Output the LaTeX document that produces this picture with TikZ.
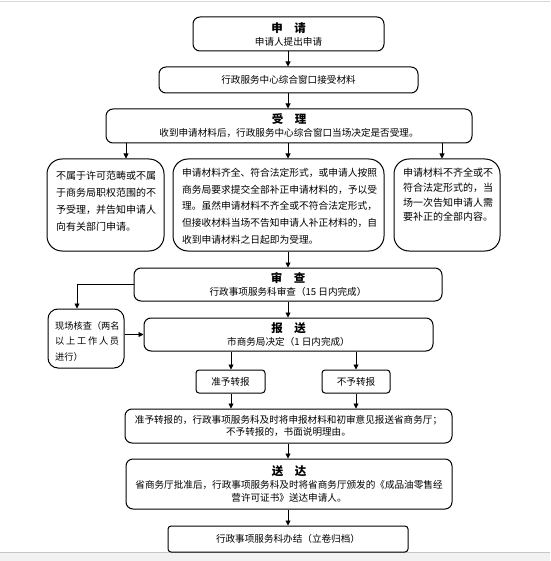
\documentclass[tikz,border=0pt]{standalone}
\usepackage{fontspec}
\setmainfont{Noto Sans CJK SC}
\usetikzlibrary{arrows.meta}
\newcommand\boxtitle[1]{{\fontsize{11.5}{13}\selectfont\bfseries #1}}
\begin{document}
\begin{tikzpicture}[x=1pt,y=-1pt,
  box/.style={draw, line width=1pt, rounded corners=7pt, inner sep=0pt, align=center,
              font=\fontsize{9.6}{13}\selectfont},
  bigbox/.style={draw, line width=1pt, rounded corners=15pt, inner sep=0pt},
  txt/.style={inner sep=0pt, align=left, anchor=north west},
  arr/.style={-{Triangle[length=5pt,width=5pt]}, line width=0.9pt}
]
\useasboundingbox (0,0) rectangle (550,561);
\fill[white] (0,0) rectangle (550,561);
\draw[gray!30, line width=1.5pt] (0,1.5) -- (550,1.5);
\fill[gray!10] (0,552) rectangle (550,561);
\draw[gray!45, line width=0.8pt] (0,552.5) -- (550,552.5);

\coordinate (xa) at (126,0);
\coordinate (xm) at (288,0);
\coordinate (xr) at (442,0);
\coordinate (xz) at (231,0);
\coordinate (xb) at (356,0);
\coordinate (xv) at (77,0);

\node[box, minimum width=191, minimum height=34] (shen) at (288.5,34)
  {\boxtitle{申　请}\\申请人提出申请};
\node[box, minimum width=259, minimum height=26] (jieshou) at (288.5,80)
  {行政服务中心综合窗口接受材料};
\node[box, minimum width=366, minimum height=34] (shouli) at (289,126)
  {\boxtitle{受　理}\\收到申请材料后，行政服务中心综合窗口当场决定是否受理。};

\node[bigbox, minimum width=117, minimum height=92] (bushu) at (105.5,205) {};
\node[txt, font=\fontsize{10}{17}\selectfont] (bushuT) at (56,171)
  {不属于许可范畴或不属\\于商务局职权范围的不\\予受理，并告知申请人\\向有关部门申请。};
\node[bigbox, minimum width=211, minimum height=92] (yuyi) at (278.5,205) {};
\node[txt, font=\fontsize{9.75}{16.75}\selectfont] (yuyiT) at (182,168)
  {申请材料齐全、符合法定形式，或申请人按照\\商务局要求提交全部补正申请材料的，予以受\\理。虽然申请材料不齐全或不符合法定形式，\\但接收材料当场不告知申请人补正材料的，自\\收到申请材料之日起即为受理。};
\node[bigbox, minimum width=106, minimum height=92] (buqi) at (447,205) {};
\node[txt, font=\fontsize{10}{14.7}\selectfont] (buqiT) at (403,168)
  {申请材料不齐全或不\\符合法定形式的，当\\场一次告知申请人需\\要补正的全部内容。};

\node[box, minimum width=308, minimum height=33] (shencha) at (288,284.5)
  {\boxtitle{审　查}\\行政事项服务科审查（15 日内完成）};
\node[box, minimum width=289, minimum height=33] (baosong) at (288.5,334.5)
  {\boxtitle{报　送}\\市商务局决定（1 日内完成）};
\node[bigbox, rounded corners=10pt, minimum width=76, minimum height=59] (xianchang) at (86,338.5) {};
\node[txt, font=\fontsize{9.2}{15.5}\selectfont] (xianchangT) at (55,321)
  {现场核查（两名\\\makebox[64pt][l]{以\hfill 上\hfill 工\hfill 作\hfill 人\hfill 员}\\进行）};

\node[box, rounded corners=3pt, minimum width=69, minimum height=23] (zhun) at (230.5,381.5) {准予转报};
\node[box, rounded corners=3pt, minimum width=68, minimum height=23] (buyu) at (356,381.5) {不予转报};

\node[box, font=\fontsize{9.6}{12.5}\selectfont, minimum width=327, minimum height=34] (jieguo) at (288.5,426)
  {准予转报的，行政事项服务科及时将申报材料和初审意见报送省商务厅；\\不予转报的，书面说明理由。};
\node[box, minimum width=326, minimum height=50] (songda) at (289,484)
  {\boxtitle{送　达}\\省商务厅批准后，行政事项服务科及时将省商务厅颁发的《成品油零售经\\营许可证书》送达申请人。};
\node[box, rounded corners=3pt, minimum width=240, minimum height=26] (banjie) at (288,539)
  {行政事项服务科办结（立卷归档）};

\draw[arr] (shen.south -| xm) -- (jieshou.north -| xm);
\draw[arr] (jieshou.south -| xm) -- (shouli.north -| xm);
\draw[arr] (shouli.south -| xa) -- (bushu.north -| xa);
\draw[arr] (shouli.south -| xm) -- (yuyi.north -| xm);
\draw[arr] (shouli.south -| xr) -- (buqi.north -| xr);
\draw[arr] (yuyi.south -| xm) -- (shencha.north -| xm);
\draw[arr] (shencha.west) -| (xianchang.north -| xv);
\draw[arr] (shencha.south -| xm) -- (baosong.north -| xm);
\draw[arr] (xianchang.east |- baosong.west) -- (baosong.west);
\draw[arr] (baosong.south -| xz) -- (zhun.north -| xz);
\draw[arr] (baosong.south -| xb) -- (buyu.north -| xb);
\draw[arr] (zhun.south -| xz) -- (jieguo.north -| xz);
\draw[arr] (buyu.south -| xb) -- (jieguo.north -| xb);
\draw[arr] (jieguo.south -| xm) -- (songda.north -| xm);
\draw[arr] (songda.south -| xm) -- (banjie.north -| xm);
\end{tikzpicture}
\end{document}
